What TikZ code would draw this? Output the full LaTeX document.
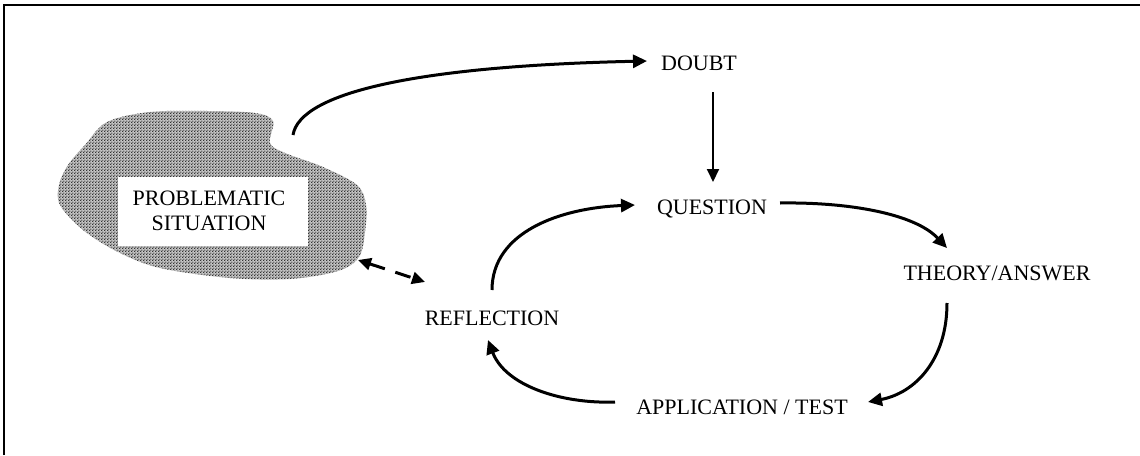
\documentclass[tikz,border=0pt]{standalone}
\usepackage{fontspec}
\setmainfont{Liberation Serif}
\usetikzlibrary{arrows.meta,calc,patterns}
% coarse halftone of staggered dots
\pgfdeclarepatternformonly{halftone}{\pgfqpoint{-1pt}{-1pt}}{\pgfqpoint{2pt}{2pt}}{\pgfqpoint{3pt}{3pt}}{%
  \pgfpathcircle{\pgfqpoint{0pt}{0pt}}{0.8pt}%
  \pgfpathcircle{\pgfqpoint{1.5pt}{1.5pt}}{0.8pt}%
  \pgfusepath{fill}}
\begin{document}
\begin{tikzpicture}[x=1pt,y=-1pt,
  lbl/.style={inner sep=0pt,text height=14.6pt,text depth=0pt,font=\fontsize{22}{26}\selectfont},
  flow/.style={line width=3pt,-{Triangle[length=14pt,width=13pt]}},
  drop/.style={line width=2pt,-{Triangle[length=13pt,width=12pt]}},
  link/.style={line width=3pt,dash pattern=on 16pt off 11pt,
    {Triangle[length=13pt,width=12pt]}-{Triangle[length=13pt,width=12pt]}},
  cloud/.style={pattern=halftone,pattern color=black,draw=none}]
\useasboundingbox (0,0) rectangle (1140,455);
\fill[white] (0,0) rectangle (1140,455);

% frame (top and left rules)
\draw[line width=2.5pt] (4,455) -- (4,5) -- (1140,5);

% stippled cloud around the problem box
\def\cloudpts{(107,122) (150,112) (207,111) (255,113) (273,121) (270,143) (285,153)
  (323,167) (357,185) (366,205) (365,232) (359,257) (338,271) (290,279)
  (230,278) (160,268) (118,252) (83,230) (60,205) (59,185) (68,165) (85,145)}
\fill[black!22] plot[smooth cycle,tension=0.55] coordinates {\cloudpts};
\path[cloud] plot[smooth cycle,tension=0.55] coordinates {\cloudpts};
\node[fill=white,inner sep=0pt,minimum width=190pt,minimum height=69pt,
  align=center,font=\fontsize{22}{25}\selectfont] (problem) at (213,211)
  {\hspace*{-8pt}PROBLEMATIC\\\hspace*{-8pt}SITUATION};
\coordinate (cloudtop) at (293,135);
\coordinate (cloudedge) at (358,260);

% stages of the cycle
\node[lbl] (doubt) at (699,63) {DOUBT};
\node[lbl] (question) at (712,207) {QUESTION};
\node[lbl] (theory) at (997,273) {THEORY/ANSWER};
\node[lbl] (application) at (742,407) {APPLICATION / TEST};
\node[lbl] (reflection) at (492,318) {REFLECTION};

% connectors
\draw[flow] (cloudtop) .. controls (300,92) and (420,66) .. ($(doubt)+(-52,-2)$);
\draw[drop] ($(doubt)+(14,29)$) -- ($(question)+(1,-25)$);
\draw[flow] ($(question)+(68,-4)$) .. controls (850,202) and (915,214) .. ($(theory)+(-50,-25)$);
\draw[flow] ($(theory)+(-50,30)$) .. controls (947,360) and (915,393) .. ($(application)+(126,-5)$);
\draw[flow] ($(application)+(-127,-5)$) .. controls (560,404) and (505,385) .. ($(reflection)+(-4,22)$);
\draw[flow] ($(reflection)+(0,-28)$) .. controls (492,232) and (560,208) .. ($(question)+(-77,-2)$);
\draw[link] (cloudedge) -- ($(reflection)+(-67,-36)$);
\end{tikzpicture}
\end{document}
